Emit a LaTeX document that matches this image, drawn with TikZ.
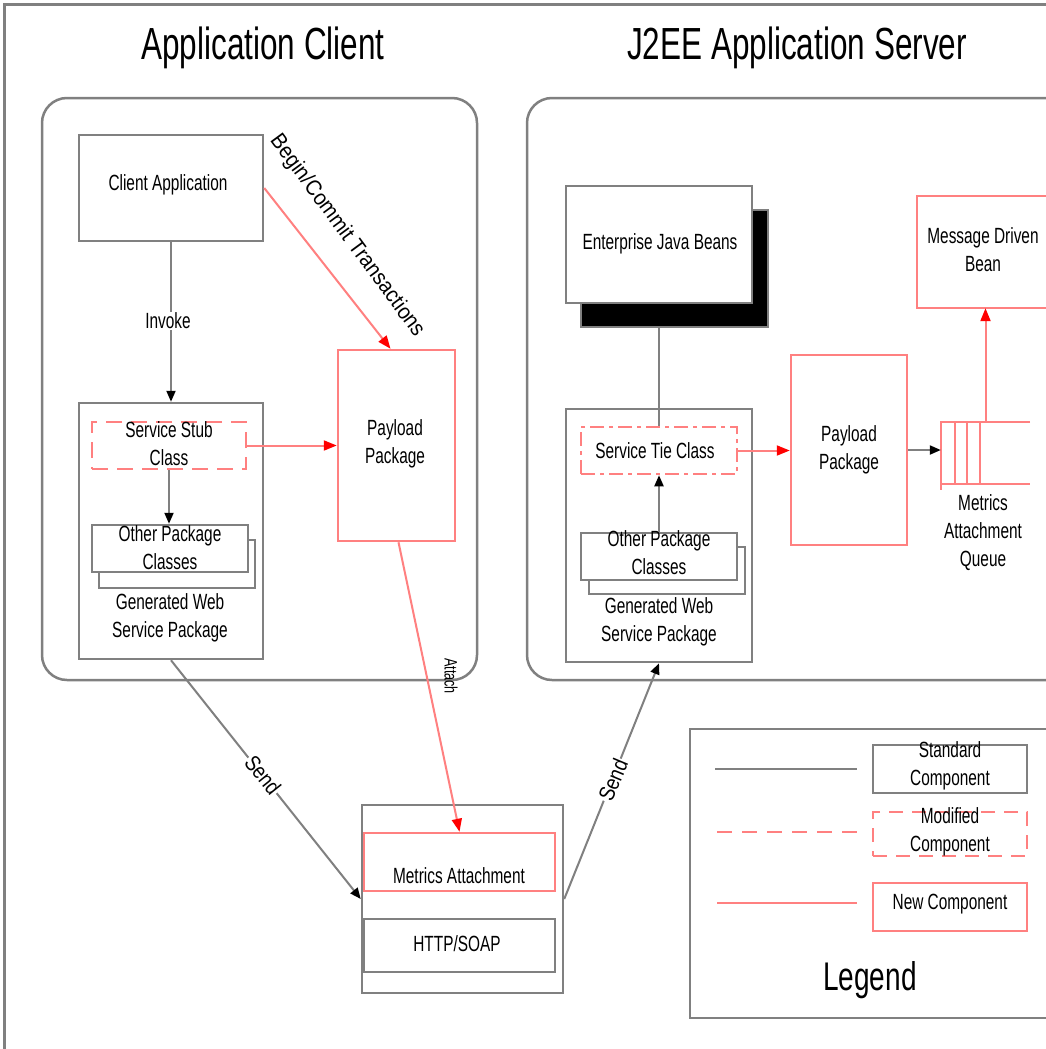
\documentclass[tikz,border=0pt]{standalone}
\usepackage{fontspec}
\setmainfont{Liberation Sans}[FakeStretch=0.7]
\usetikzlibrary{arrows.meta,calc}
\definecolor{lg}{HTML}{808080}
\definecolor{lr}{HTML}{FF8080}
\definecolor{br}{HTML}{FF0000}
\begin{document}
\begin{tikzpicture}[x=1pt,y=-1pt,
  txt/.style={font=\fontsize{22}{28}\selectfont, align=center, inner sep=0pt},
  boxbase/.style={line width=2.5pt, inner sep=0pt, fill=white},
  stdbox/.style={boxbase, draw=lg},
  newbox/.style={boxbase, draw=lr},
  modbox/.style={boxbase, draw=lr, dash pattern=on 16pt off 9pt},
  tiebox/.style={boxbase, draw=lr, dash pattern=on 14pt off 5pt on 4pt off 5pt},
  stdline/.style={draw=lg, line width=2pt},
  newline/.style={draw=lr, line width=2pt},
  blk/.style={-{Triangle[length=11pt,width=9pt,color=black]}},
  rtip/.style={-{Triangle[length=13pt,width=10pt,color=br]}},
  onlabel/.style={txt, fill=white, inner sep=1pt}
]
\useasboundingbox (0,0) rectangle (1046,1049);
\fill[white] (0,0) rectangle (1046,1049);
% outer frame
\draw[lg, line width=3pt] (4,1049) -- (4,5) -- (1046,5);
% titles
\node[font=\fontsize{45}{50}\selectfont] (t1) at (263,48) {Application Client};
\node[font=\fontsize{45}{50}\selectfont] (t2) at (797,48) {J2EE Application Server};
% containers
\node[draw=lg, line width=2.5pt, rounded corners=25pt, minimum width=435pt, minimum height=582pt] (cl) at (259.5,389) {};
\draw[lg, line width=2.5pt, rounded corners=25pt] (1046,98) -- (527,98) -- (527,680) -- (1046,680);

% ---------- client side ----------
\node[stdbox, minimum width=184pt, minimum height=106pt] (client) at (171,188) {};
\node[txt] (clientT) at (168,185) {Client Application};
\node[newbox, minimum width=117pt, minimum height=191pt] (payL) at (396.5,445.5) {};
\node[txt] (payLT) at (395,444) {Payload\\Package};
\node[stdbox, minimum width=184pt, minimum height=256pt] (genL) at (171,531) {};
\node[modbox, minimum width=154pt, minimum height=47pt] (stubL) at (169,445.5) {};
\node[txt] (stubLT) at (169,444) {Service Stub\\Class};
\node[stdbox, minimum width=156pt, minimum height=48pt] (otherLs) at (177,564) {};
\node[stdbox, minimum width=156pt, minimum height=47pt] (otherL) at (170,548.5) {};
\node[txt] (otherLT) at (170,548) {Other Package\\Classes};
\node[txt] (genLT) at (170,618) {Generated Web\\Service Package};

% transport
\node[stdbox, minimum width=201pt, minimum height=188pt] (trans) at (462.5,899) {};
\node[newbox, minimum width=191pt, minimum height=58pt] (metr) at (459.5,862) {};
\node[txt] (metrT) at (459,876) {Metrics Attachment};
\node[stdbox, minimum width=191pt, minimum height=53pt] (http) at (459.5,945.5) {};
\node[txt] (httpT) at (457,944) {HTTP/SOAP};

% ---------- server side ----------
\node[fill=black, draw=lg, line width=2pt, minimum width=187pt, minimum height=117pt] (ejbs) at (674.5,268.5) {};
\node[stdbox, minimum width=186pt, minimum height=117pt] (ejb) at (659,244.5) {};
\node[txt] (ejbT) at (660,244) {Enterprise Java Beans};
\node[stdbox, minimum width=186pt, minimum height=253pt] (genR) at (659,535.5) {};
\draw[stdline] (ejbs.south -| ejb.south) -- (genR.north -| ejb.south);
\node[tiebox, minimum width=156pt, minimum height=47pt] (tie) at (659,450.5) {};
\draw[stdline] (genR.north -| tie.north) -- (tie.north);
\node[txt] (tieT) at (655,451) {Service Tie Class};
\node[stdbox, minimum width=156pt, minimum height=47pt] (otherRs) at (667,570.5) {};
\node[stdbox, minimum width=156pt, minimum height=47pt] (otherR) at (659,556.5) {};
\node[txt] (otherRT) at (659,553) {Other Package\\Classes};
\node[txt] (genRT) at (659,622) {Generated Web\\Service Package};
\node[newbox, minimum width=116pt, minimum height=190pt] (payR) at (849,450) {};
\node[txt] (payRT) at (849,450) {Payload\\Package};
% message driven bean (cut at right edge)
\node[minimum width=129pt, minimum height=112pt, inner sep=0pt] (mdb) at (981.5,252) {};
\draw[lr, line width=2.5pt] (mdb.north east) -- (mdb.north west) -- (mdb.south west) -- (mdb.south east);
\node[txt] (mdbT) at (983,250) {Message Driven\\Bean};
% queue
\node[minimum width=89pt, minimum height=62pt, inner sep=0pt] (queue) at (985.5,453) {};
\draw[lr, line width=2.5pt] (queue.north east) -- (queue.north west) -- ($(queue.south west)+(0,6)$);
\draw[lr, line width=2.5pt] (queue.south west) -- (queue.south east);
\foreach \dx in {14,26,39} {
  \draw[lr, line width=2.5pt] ($(queue.north west)+(\dx,0)$) -- ($(queue.south west)+(\dx,0)$);
}
\node[txt] (queueT) at (983,533) {Metrics\\Attachment\\Queue};

% ---------- connectors ----------
\draw[stdline, blk] (client.south) -- (genL.north);
\node[onlabel] (inv) at (168,321) {Invoke};
\draw[stdline, blk] (stubL.south) -- (stubL.south |- otherL.north);
\draw[newline, rtip] (stubL.east) -- (stubL.east -| payL.west);
\draw[newline, rtip] (client.east) -- ($(payL.north)+(-6,0)$);
\node[txt, rotate=-53.6] (bct) at (347,236) {\scalebox{1.3}[1]{Begin/Commit Transactions}};
\draw[newline, rtip] ($(payL.south)+(2,0)$) -- (metr.north);
\node[txt, rotate=-90, font=\fontsize{18}{20}\selectfont] (att) at (451,676) {Attach};
\draw[stdline, blk] (genL.south) -- (trans.west);
\node[onlabel, rotate=-51.2] (send1) at (263,775) {\scalebox{1.2}[1]{Send}};
\draw[stdline, blk] (trans.east) -- (genR.south);
\node[onlabel, rotate=67.3] (send2) at (613,780) {\scalebox{1.2}[1]{Send}};
\draw[stdline, blk] (otherR.north) -- (tie.south);
\draw[newline, rtip] (tie.east) -- (tie.east -| payR.west);
\draw[stdline, blk] (payR.east) -- (payR.east -| queue.west);
\draw[newline, rtip] (queue.north) -- (queue.north |- mdb.south);

% ---------- legend ----------
\node[minimum width=356pt, minimum height=289pt, inner sep=0pt] (leg) at (868,873.5) {};
\draw[lg, line width=2.5pt] (leg.north east) -- (leg.north west) -- (leg.south west) -- (leg.south east);
\draw[stdline] (715,769) -- (857,769);
\draw[newline, line width=2.5pt, dash pattern=on 15pt off 10pt] (717,832) -- (857,832);
\draw[newline, line width=2.5pt] (717,903) -- (857,903);
\node[stdbox, minimum width=154pt, minimum height=48pt] (lstd) at (950,769) {};
\node[txt] (lstdT) at (950,766) {Standard\\Component};
\node[modbox, dash pattern=on 14pt off 9pt, minimum width=154pt, minimum height=44pt] (lmod) at (950,834) {};
\node[txt] (lmodT) at (950,832) {Modified\\Component};
\node[newbox, minimum width=154pt, minimum height=48pt] (lnew) at (950,907) {};
\node[txt] (lnewT) at (950,904) {New Component};
\node[font=\fontsize{40}{44}\selectfont] (legT) at (870,980) {Legend};
\end{tikzpicture}
\end{document}
